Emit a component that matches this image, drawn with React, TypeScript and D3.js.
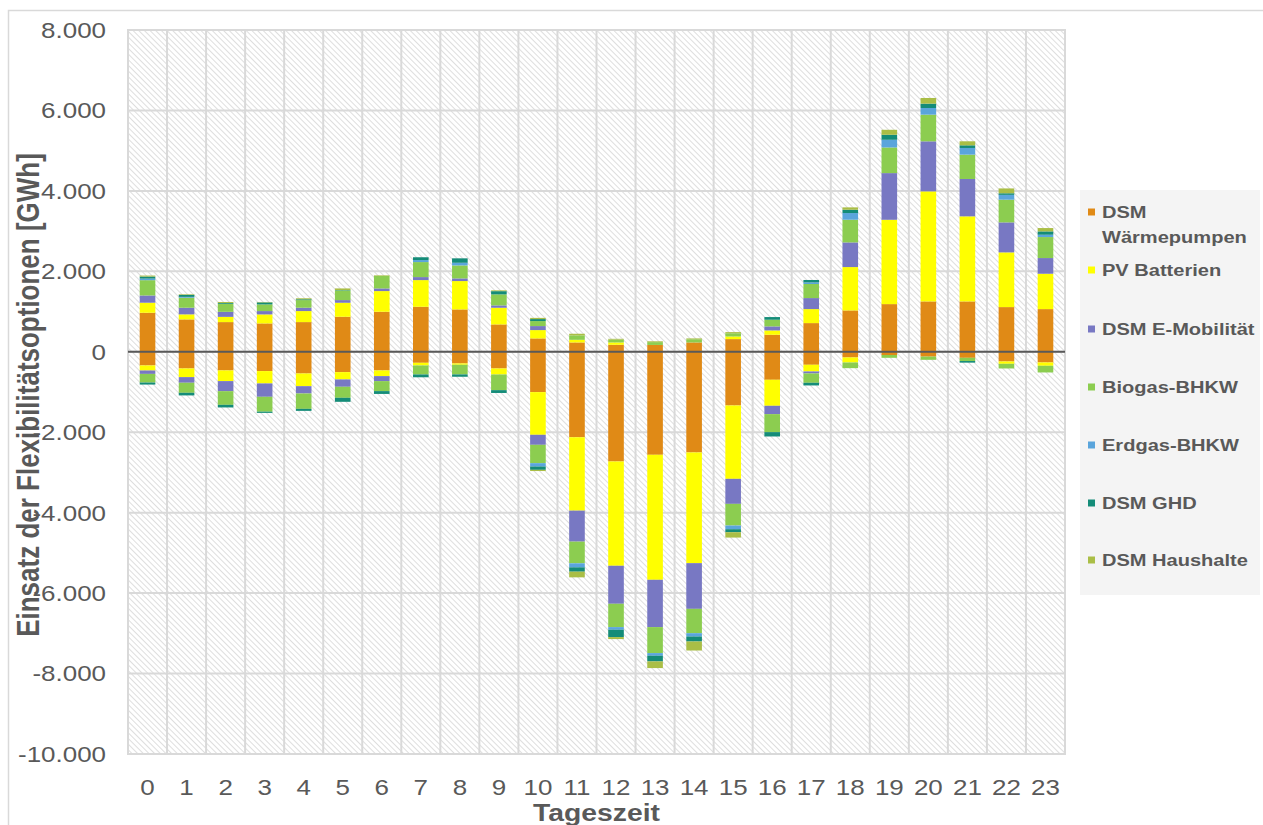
import React from 'react';
import * as d3 from 'd3';

const hours = ['0','1','2','3','4','5','6','7','8','9','10','11','12','13','14','15','16','17','18','19','20','21','22','23'];
const yTicks = [-10000, -8000, -6000, -4000, -2000, 0, 2000, 4000, 6000, 8000];

const seriesNames = ['DSM Wärmepumpen', 'PV Batterien', 'DSM E-Mobilität', 'Biogas-BHKW', 'Erdgas-BHKW', 'DSM GHD', 'DSM Haushalte'];
const seriesColors = ['#E08A16', '#FFFF00', '#7878C3', '#8CCD50', '#5AA5DC', '#148C78', '#AABE46'];

// positive use (GWh)
const waermepumpenPlus = [970, 805, 738, 705, 738, 871, 995, 1119, 1053, 680, 332, 232, 174, 170, 232, 315, 423, 713, 1028, 1185, 1252, 1252, 1111, 1061];
const pvBatterienPlus = [250, 125, 130, 224, 274, 348, 514, 663, 705, 415, 207, 66, 58, 0, 0, 66, 108, 348, 1078, 2097, 2736, 2115, 1360, 879];
const eMobilitaetPlus = [180, 165, 125, 83, 83, 66, 66, 75, 66, 58, 100, 0, 0, 0, 0, 0, 100, 274, 613, 1160, 1244, 929, 746, 390];
const biogasPlus = [380, 250, 200, 166, 190, 240, 310, 373, 323, 274, 124, 110, 70, 70, 80, 80, 166, 350, 564, 638, 663, 605, 564, 522];
const erdgasPlus = [40, 20, 0, 0, 0, 0, 0, 50, 66, 0, 0, 0, 0, 0, 0, 0, 0, 40, 166, 191, 166, 166, 120, 58];
const ghdPlus = [50, 50, 20, 50, 20, 10, 0, 70, 110, 80, 50, 0, 0, 0, 0, 0, 66, 60, 83, 124, 108, 66, 40, 83];
const haushaltePlus = [25, 15, 25, 10, 25, 40, 15, 0, 0, 20, 30, 40, 20, 20, 20, 28, 0, 0, 58, 124, 141, 100, 120, 83];

// negative use (GWh, drawn below zero)
const waermepumpenMinus = [340, 415, 464, 480, 540, 506, 464, 274, 290, 415, 1003, 2125, 2727, 2561, 2503, 1335, 696, 323, 141, 80, 120, 150, 241, 265];
const pvBatterienMinus = [125, 215, 265, 307, 315, 182, 141, 66, 33, 149, 1061, 1824, 2593, 3108, 2752, 1824, 647, 166, 125, 0, 0, 0, 58, 83];
const eMobilitaetMinus = [85, 140, 250, 332, 182, 182, 124, 0, 0, 0, 249, 771, 945, 1176, 1136, 622, 207, 50, 0, 0, 0, 0, 0, 0];
const biogasMinus = [215, 250, 340, 370, 382, 274, 249, 224, 240, 390, 456, 539, 580, 646, 605, 539, 448, 232, 141, 70, 80, 80, 116, 166];
const erdgasMinus = [0, 0, 0, 0, 0, 0, 0, 0, 0, 0, 83, 100, 66, 66, 83, 91, 0, 0, 0, 0, 0, 0, 0, 0];
const ghdMinus = [50, 65, 65, 30, 50, 100, 70, 70, 58, 70, 83, 108, 182, 141, 124, 75, 108, 66, 0, 0, 0, 40, 0, 0];
const haushalteMinus = [0, 0, 0, 0, 0, 0, 0, 0, 0, 0, 30, 141, 50, 166, 224, 133, 0, 0, 0, 0, 0, 0, 0, 0];

const plusSeries = [waermepumpenPlus, pvBatterienPlus, eMobilitaetPlus, biogasPlus, erdgasPlus, ghdPlus, haushaltePlus];
const minusSeries = [waermepumpenMinus, pvBatterienMinus, eMobilitaetMinus, biogasMinus, erdgasMinus, ghdMinus, haushalteMinus];

const W = 1263;
const H = 825;
const M = { left: 128, right: 1065, top: 30, bottom: 754 };
const SX = 1.18;
const FONT = 'Liberation Sans, Arial, sans-serif';
const TXT = '#595959';

const locale = d3.formatLocale({ decimal: ',', thousands: '.', grouping: [3], currency: ['', ' €'], minus: '-' });
const fmt = locale.format(',');

export default function App() {
  const x = d3.scaleBand<string>().domain(hours).range([M.left, M.right]).paddingInner(0.6).paddingOuter(0.3);
  const xb = d3.scaleBand<string>().domain(hours).range([M.left, M.right]);
  const y = d3.scaleLinear().domain([-10000, 8000]).range([M.bottom, M.top]);

  const keys = seriesNames.map((_, i) => String(i));
  const posRows = hours.map((h, j) => {
    const r: any = { h };
    keys.forEach((k, i) => (r[k] = plusSeries[i][j]));
    return r;
  });
  const negRows = hours.map((h, j) => {
    const r: any = { h };
    keys.forEach((k, i) => (r[k] = minusSeries[i][j]));
    return r;
  });
  const stack = d3.stack<any>().keys(keys);
  const posStack = stack(posRows);
  const negStack = stack(negRows);

  const bw = x.bandwidth();

  const legendItems = [
    { lines: ['DSM', 'Wärmepumpen'], ys: [212, 237] },
    { lines: ['PV Batterien'], ys: [270] },
    { lines: ['DSM E-Mobilität'], ys: [329] },
    { lines: ['Biogas-BHKW'], ys: [387] },
    { lines: ['Erdgas-BHKW'], ys: [445] },
    { lines: ['DSM GHD'], ys: [503] },
    { lines: ['DSM Haushalte'], ys: [560] },
  ];

  return (
    <svg width={W} height={H} style={{ position: 'absolute', left: 0, top: 0, display: 'block', background: '#fff' }}>
      <defs>
        <pattern id="hatch" patternUnits="userSpaceOnUse" width={4} height={4} patternTransform="rotate(-45)">
          <rect width={4} height={4} fill="#ffffff" />
          <line x1={0} y1={0} x2={0} y2={4} stroke="#cdcdcd" strokeWidth={1.3} />
        </pattern>
      </defs>
      {/* chart border */}
      <rect x={8.5} y={10.5} width={1400} height={1000} fill="none" stroke="#d9d9d9" strokeWidth={1.5} />

      {/* plot background */}
      <rect x={M.left} y={M.top} width={M.right - M.left} height={M.bottom - M.top} fill="url(#hatch)" />

      {/* grid */}
      {yTicks.map(t => (
        <line key={'gy' + t} x1={M.left} x2={M.right} y1={y(t)} y2={y(t)} stroke="#d9d9d9" strokeWidth={2} />
      ))}
      {hours.map(h => (
        <line key={'gx' + h} x1={xb(h)!} x2={xb(h)!} y1={M.top} y2={M.bottom} stroke="#d9d9d9" strokeWidth={2} />
      ))}
      <rect x={M.left} y={M.top} width={M.right - M.left} height={M.bottom - M.top} fill="none" stroke="#d9d9d9" strokeWidth={2} />

      {/* bars positive */}
      {posStack.map((s, i) => (
        <g key={'p' + i} fill={seriesColors[i]}>
          {s.map((d, j) => (
            d[1] - d[0] > 0 ? (
              <rect key={j} x={x(hours[j])!} width={bw} y={y(d[1])} height={y(d[0]) - y(d[1])} />
            ) : null
          ))}
        </g>
      ))}
      {/* bars negative */}
      {negStack.map((s, i) => (
        <g key={'n' + i} fill={seriesColors[i]}>
          {s.map((d, j) => (
            d[1] - d[0] > 0 ? (
              <rect key={j} x={x(hours[j])!} width={bw} y={y(-d[0])} height={y(-d[1]) - y(-d[0])} />
            ) : null
          ))}
        </g>
      ))}

      {/* zero line */}
      <line x1={M.left} x2={M.right} y1={y(0)} y2={y(0)} stroke="#595959" strokeWidth={2} />

      {/* y tick labels */}
      {yTicks.map(t => (
        <g key={'yl' + t} transform={`translate(106,${y(t)}) scale(${SX},1)`}>
          <text textAnchor="end" dy="0.36em" fontFamily={FONT} fontSize={22} fill={TXT}>{fmt(t)}</text>
        </g>
      ))}
      {/* x tick labels */}
      {hours.map(h => (
        <g key={'xl' + h} transform={`translate(${xb(h)! + xb.bandwidth() / 2},795) scale(${SX},1)`}>
          <text textAnchor="middle" fontFamily={FONT} fontSize={22} fill={TXT}>{h}</text>
        </g>
      ))}

      {/* axis titles */}
      <g transform={`translate(${(M.left + M.right) / 2},821) scale(${SX},1)`}>
        <text textAnchor="middle" fontFamily={FONT} fontSize={24} fontWeight="bold" fill={TXT}>Tageszeit</text>
      </g>
      <g transform={`translate(39,395) scale(${SX},1) rotate(-90)`}>
        <text textAnchor="middle" fontFamily={FONT} fontSize={26} fontWeight="bold" fill={TXT}>Einsatz der Flexibilitätsoptionen [GWh]</text>
      </g>

      {/* legend */}
      <rect x={1080} y={190} width={180} height={405} fill="#f4f4f4" />
      {legendItems.map((it, i) => (
        <g key={'lg' + i}>
          <rect x={1088} y={it.ys[0] - 3.5} width={7} height={7} fill={seriesColors[i]} />
          {it.lines.map((ln, k) => (
            <g key={k} transform={`translate(1102,${it.ys[k]}) scale(${SX},1)`}>
              <text dy="0.36em" fontFamily={FONT} fontSize={17} fontWeight="bold" fill={TXT}>{ln}</text>
            </g>
          ))}
        </g>
      ))}
    </svg>
  );
}
